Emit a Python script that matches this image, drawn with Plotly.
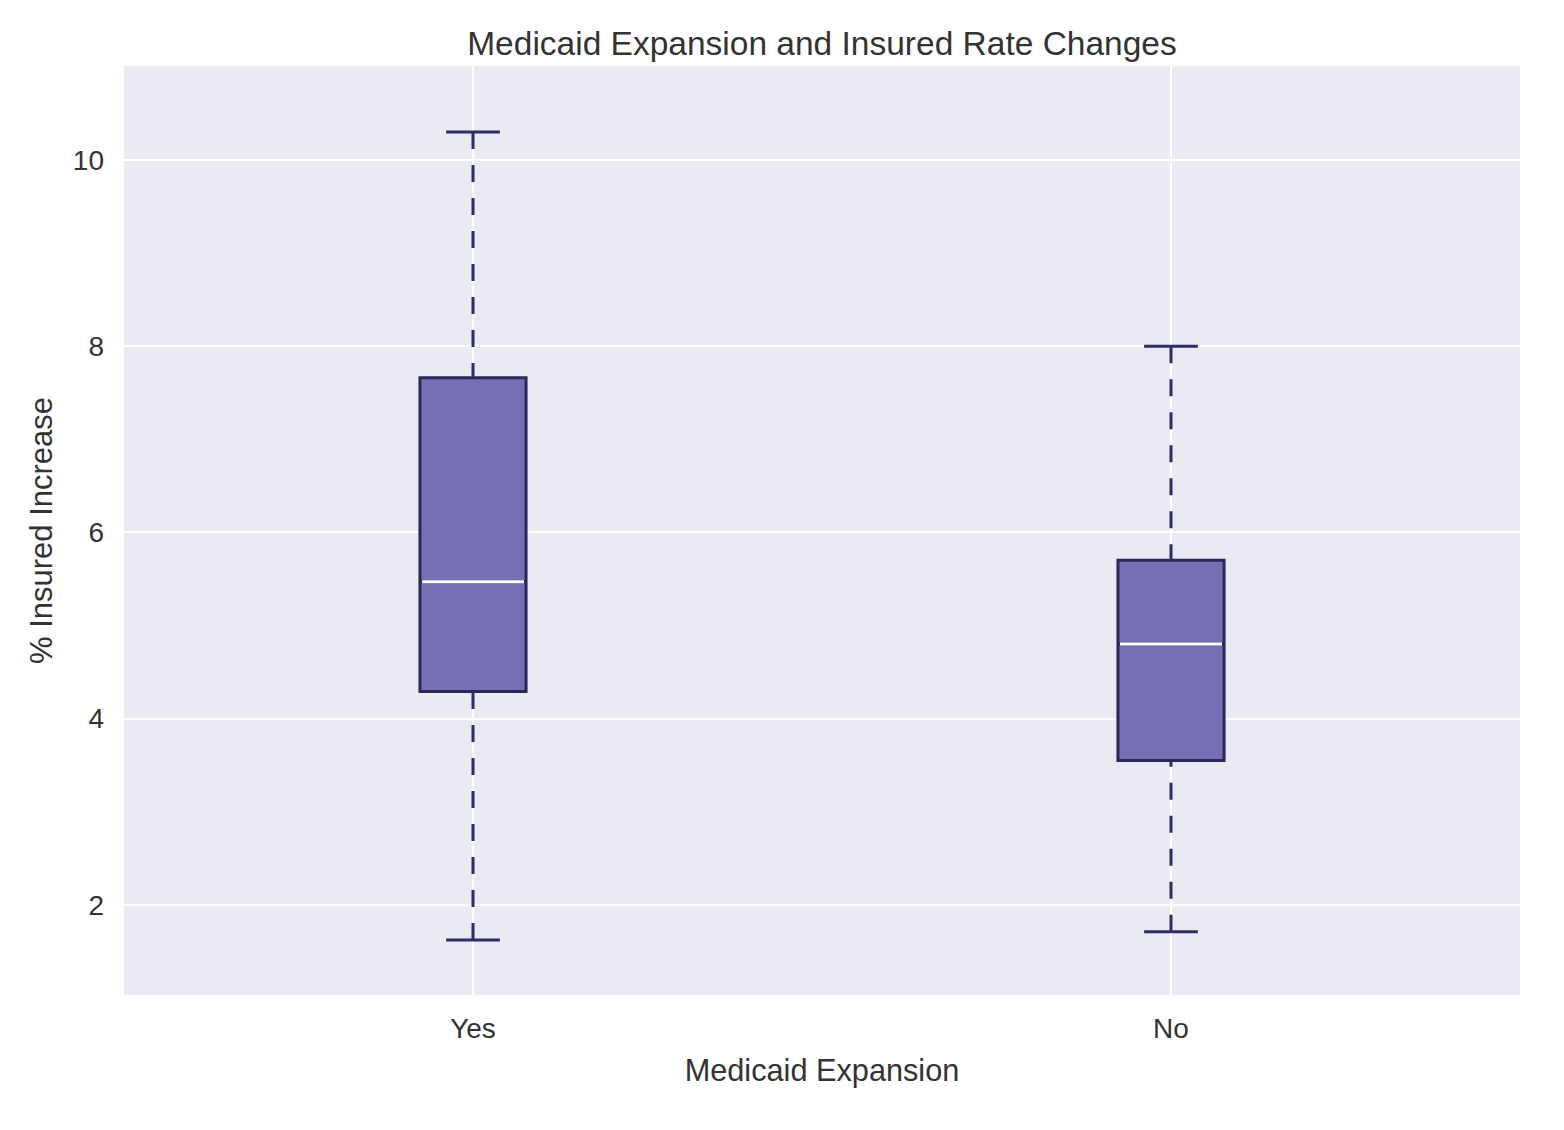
import plotly.graph_objects as go

categories = ["Yes", "No"]
positions = [1, 2]
lower_whisker = [1.62, 1.71]
q1_values = [4.29, 3.55]
median_values = [5.47, 4.80]
q3_values = [7.66, 5.70]
upper_whisker = [10.30, 8.00]

BOX_FILL = "#7570b3"
EDGE = "#2c2758"
WHISK = "#302b66"
TEXT = "#333333"
BG = "#eaeaf2"
box_w = 0.152
cap_w = 0.077

fig = go.Figure()

for i, cat in enumerate(categories):
    p = positions[i]
    # dashed whiskers
    fig.add_trace(go.Scatter(x=[p, p], y=[upper_whisker[i], q3_values[i]], mode="lines",
                             line=dict(color=WHISK, width=3, dash="17px,16px"),
                             showlegend=False, hoverinfo="skip"))
    fig.add_trace(go.Scatter(x=[p, p], y=[lower_whisker[i], q1_values[i]], mode="lines",
                             line=dict(color=WHISK, width=3, dash="17px,16px"),
                             showlegend=False, hoverinfo="skip"))
    # caps
    for yv in (upper_whisker[i], lower_whisker[i]):
        fig.add_trace(go.Scatter(x=[p - cap_w / 2, p + cap_w / 2], y=[yv, yv], mode="lines",
                                 line=dict(color=WHISK, width=3),
                                 showlegend=False, hoverinfo="skip"))
    # box
    fig.add_trace(go.Box(x=[p], q1=[q1_values[i]], median=[median_values[i]], q3=[q3_values[i]],
                         lowerfence=[q1_values[i]], upperfence=[q3_values[i]],
                         width=box_w, fillcolor=BOX_FILL, line=dict(color=EDGE, width=3),
                         whiskerwidth=0, showlegend=False, name=cat))
    # median
    fig.add_trace(go.Scatter(x=[p - box_w / 2 + 0.003, p + box_w / 2 - 0.003],
                             y=[median_values[i], median_values[i]], mode="lines",
                             line=dict(color="white", width=3),
                             showlegend=False, hoverinfo="skip"))

fig.update_layout(
    width=1548, height=1114,
    paper_bgcolor="white", plot_bgcolor=BG,
    margin=dict(l=116, r=36, t=58, b=127),
    font=dict(family="Liberation Sans, Arial, sans-serif", color=TEXT, size=28),
    title=dict(text="Medicaid Expansion and Insured Rate Changes", x=0.5, xref="paper",
               y=1 - 35 / 1114, yref="container", yanchor="middle", xanchor="center",
               font=dict(size=33.5, color=TEXT)),
    xaxis=dict(range=[0.5, 2.5], tickmode="array", tickvals=positions, ticktext=categories,
               showgrid=True, gridcolor="white", gridwidth=2, zeroline=False, ticks="",
               ticklabelstandoff=14, tickfont=dict(size=28),
               title=dict(text="Medicaid Expansion", font=dict(size=30.7), standoff=16)),
    yaxis=dict(range=[1.03, 11.01], tickvals=[2, 4, 6, 8, 10],
               showgrid=True, gridcolor="white", gridwidth=2, zeroline=False, ticks="",
               ticklabelstandoff=19, tickfont=dict(size=28),
               title=dict(text="% Insured Increase", font=dict(size=31), standoff=10)),
)

fig.write_html("out.html", config={"displayModeBar": False})
